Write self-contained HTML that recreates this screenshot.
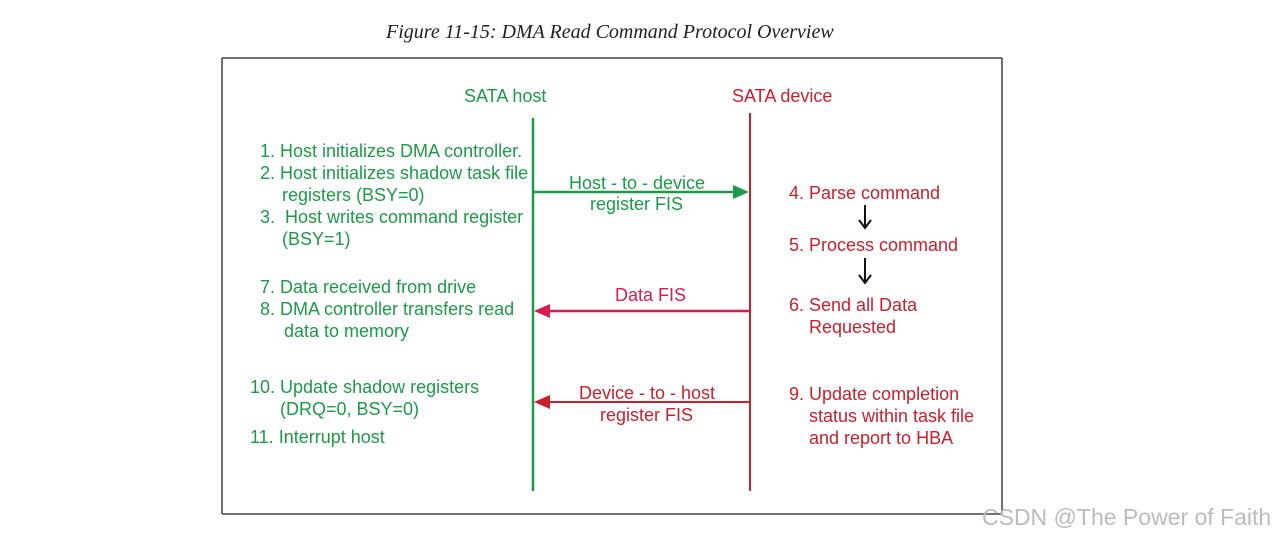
<!DOCTYPE html>
<html><head><style>
body{margin:0;width:1275px;height:538px;background:#fff;position:relative;overflow:hidden;font-family:"Liberation Sans",sans-serif}
.t{position:absolute;white-space:nowrap;font-size:18px;line-height:22px}
.g{color:#1c9a48}.r{color:#c8202e}
</style></head><body>
<div class="t" style="left:386px;top:21px;font-family:'Liberation Serif',serif;font-style:italic;font-size:20px;color:#222">Figure 11-15: DMA Read Command Protocol Overview</div>
<svg width="1275" height="538" style="position:absolute;left:0;top:0">
<line x1="222" y1="58" x2="1002" y2="58" stroke="#222" stroke-width="1.3"/>
<line x1="222" y1="58" x2="222" y2="514" stroke="#222" stroke-width="1.3"/>
<line x1="1002" y1="58" x2="1002" y2="514" stroke="#222" stroke-width="1.3"/>
<line x1="222" y1="514" x2="1002" y2="514" stroke="#444" stroke-width="1.5"/>
<line x1="533" y1="118" x2="533" y2="491" stroke="#1c9a48" stroke-width="2.5"/>
<line x1="750" y1="113" x2="750" y2="491" stroke="#c8202e" stroke-width="2"/>
<line x1="533" y1="192" x2="735" y2="192" stroke="#1c9a48" stroke-width="2.5"/>
<polygon points="749,192 733,185 733,199" fill="#1c9a48"/>
<line x1="548" y1="311" x2="750" y2="311" stroke="#d81b50" stroke-width="2.5"/>
<polygon points="534,311 550,304 550,318" fill="#d81b50"/>
<line x1="548" y1="402" x2="750" y2="402" stroke="#c8202e" stroke-width="2"/>
<polygon points="534,402 550,395 550,409" fill="#c8202e"/>
<line x1="865" y1="205" x2="865" y2="227" stroke="#111" stroke-width="2"/>
<polyline points="859,220 865,228 871,220" fill="none" stroke="#111" stroke-width="2"/>
<line x1="865" y1="258" x2="865" y2="282" stroke="#111" stroke-width="2"/>
<polyline points="859,275 865,283 871,275" fill="none" stroke="#111" stroke-width="2"/>
</svg>
<div class="t g" style="left:464px;top:85px">SATA host</div>
<div class="t r" style="left:732px;top:85px">SATA device</div>
<div class="t g" style="left:260px;top:140px">1. Host initializes DMA controller.</div>
<div class="t g" style="left:260px;top:162px">2. Host initializes shadow task file</div>
<div class="t g" style="left:282px;top:184px">registers (BSY=0)</div>
<div class="t g" style="left:260px;top:206px">3.&nbsp; Host writes command register</div>
<div class="t g" style="left:282px;top:228px">(BSY=1)</div>
<div class="t g" style="left:260px;top:276px">7. Data received from drive</div>
<div class="t g" style="left:260px;top:298px">8. DMA controller transfers read</div>
<div class="t g" style="left:284px;top:320px">data to memory</div>
<div class="t g" style="left:250px;top:376px">10. Update shadow registers</div>
<div class="t g" style="left:280px;top:398px">(DRQ=0, BSY=0)</div>
<div class="t g" style="left:250px;top:426px">11. Interrupt host</div>
<div class="t g" style="left:569px;top:172px">Host - to - device</div>
<div class="t g" style="left:590px;top:193px">register FIS</div>
<div class="t" style="left:615px;top:284px;color:#d81b50">Data FIS</div>
<div class="t r" style="left:579px;top:382px">Device - to - host</div>
<div class="t r" style="left:600px;top:404px">register FIS</div>
<div class="t r" style="left:789px;top:182px">4. Parse command</div>
<div class="t r" style="left:789px;top:234px">5. Process command</div>
<div class="t r" style="left:789px;top:294px">6. Send all Data</div>
<div class="t r" style="left:809px;top:316px">Requested</div>
<div class="t r" style="left:789px;top:383px">9. Update completion</div>
<div class="t r" style="left:809px;top:405px">status within task file</div>
<div class="t r" style="left:809px;top:427px">and report to HBA</div>
<div class="t" style="left:982px;top:504px;font-size:23px;line-height:26px;color:#bbb">CSDN @The Power of Faith</div>
</body></html>
